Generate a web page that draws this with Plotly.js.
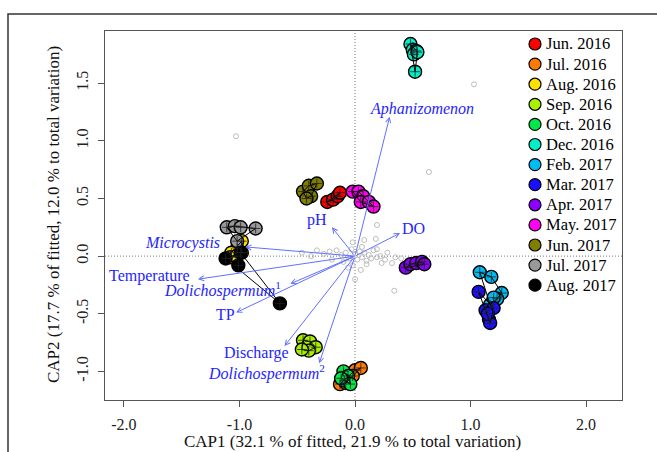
<!DOCTYPE html>
<html>
<head>
<meta charset="utf-8">
<script src="https://cdn.plot.ly/plotly-3.0.1.min.js"></script>
<style>html,body{margin:0;padding:0;background:#fff;}#chart{width:657px;height:452px;}</style>
</head>
<body>
<div id="chart"></div>
<script>
// ---- sample scores (CAP1, CAP2) by month ----
const months = ['Jun. 2016','Jul. 2016','Aug. 2016','Sep. 2016','Oct. 2016','Dec. 2016','Feb. 2017','Mar. 2017','Apr. 2017','May. 2017','Jun. 2017','Jul. 2017','Aug. 2017'];
const monthColors = ['#ff0000','#ff7a00','#ffe000','#a8f000','#00e84a','#00f0c8','#00bcf2','#1a10ff','#8c00ff','#ff00f0','#808000','#999999','#000000'];

const jun2016_x = [-0.24,-0.19,-0.15,-0.13];
const jun2016_y = [0.47,0.49,0.52,0.55];
const jul2016_x = [0.00,0.05,-0.02,-0.13,-0.08];
const jul2016_y = [-0.99,-0.97,-1.04,-1.11,-1.10];
const aug2016_x = [-0.98,-1.02,-1.07,-0.98,-1.08,-1.03];
const aug2016_y = [0.13,0.07,0.03,0.03,-0.01,0.00];
const sep2016_x = [-0.45,-0.39,-0.34,-0.40,-0.46];
const sep2016_y = [-0.73,-0.74,-0.79,-0.82,-0.81];
const oct2016_x = [-0.10,-0.06,-0.09,-0.04,-0.12];
const oct2016_y = [-1.00,-1.04,-1.08,-1.11,-1.06];
const dec2016_x = [0.48,0.50,0.53,0.51,0.54,0.52];
const dec2016_y = [1.84,1.79,1.78,1.75,1.77,1.60];
const feb2017_x = [1.08,1.18,1.27,1.23,1.17,1.20];
const feb2017_y = [-0.14,-0.18,-0.32,-0.37,-0.42,-0.36];
const mar2017_x = [1.07,1.13,1.16,1.17,1.20,1.15];
const mar2017_y = [-0.31,-0.47,-0.55,-0.58,-0.45,-0.50];
const apr2017_x = [0.44,0.48,0.53,0.58,0.60];
const apr2017_y = [-0.10,-0.07,-0.06,-0.05,-0.07];
const may2017_x = [-0.02,0.03,0.07,0.05,0.12,0.16];
const may2017_y = [0.56,0.56,0.52,0.47,0.47,0.43];
const jun2017_x = [-0.45,-0.40,-0.33,-0.38,-0.42];
const jun2017_y = [0.56,0.61,0.63,0.52,0.50];
const jul2017_x = [-1.11,-1.04,-0.99,-0.86,-1.02];
const jul2017_y = [0.25,0.26,0.25,0.24,0.13];
const aug2017_x = [-1.12,-0.99,-1.01,-0.65];
const aug2017_y = [-0.02,0.03,-0.08,-0.41];

const groupX = [jun2016_x,jul2016_x,aug2016_x,sep2016_x,oct2016_x,dec2016_x,feb2017_x,mar2017_x,apr2017_x,may2017_x,jun2017_x,jul2017_x,aug2017_x];
const groupY = [jun2016_y,jul2016_y,aug2016_y,sep2016_y,oct2016_y,dec2016_y,feb2017_y,mar2017_y,apr2017_y,may2017_y,jun2017_y,jul2017_y,aug2017_y];

// ---- species scores (grey) ----
const speciesX = [-0.46,-0.33,-0.27,-0.22,-0.16,-0.12,-0.08,-0.05,-0.03,0.00,0.02,0.04,0.06,0.08,0.10,0.12,0.14,0.16,0.19,0.22,0.26,0.32,0.35,0.19,0.18,0.08,0.19,0.64,1.03,-1.03,0.34,-0.02,-0.06,0.05,0.10,-0.10,-0.20,0.28,0.40,-0.38,0.00,-0.02,0.06,0.23];
const speciesY = [0.03,0.05,0.02,0.04,0.05,0.01,0.03,-0.02,0.06,0.02,-0.03,0.04,-0.01,0.03,-0.04,0.01,-0.02,0.05,-0.01,0.00,-0.03,-0.06,-0.01,0.06,0.15,0.14,0.27,0.73,1.49,1.04,-0.30,-0.08,-0.10,-0.12,-0.07,-0.05,-0.03,0.03,-0.02,0.00,-0.20,0.12,0.08,-0.06];

// ---- fitted vectors ----
const vectorNames = ['<i>Aphanizomenon</i>','pH','DO','<i>Microcystis</i>','Temperature','<i>Dolichospermum</i><sup>1</sup>','TP','Discharge','<i>Dolichospermum</i><sup>2</sup>'];
const vectorX = [0.30,-0.20,0.39,-0.95,-1.36,-0.56,-1.03,-0.61,-0.31];
const vectorY = [1.21,0.25,0.20,0.08,-0.20,-0.24,-0.49,-0.78,-0.93];
const labelX = [0.58,-0.33,0.51,-1.49,-1.78,-1.15,-1.12,-0.85,-0.77];
const labelY = [1.28,0.31,0.24,0.11,-0.17,-0.29,-0.51,-0.84,-1.01];

// ---- axis ticks ----
const xTickVals = [-2,-1,0,1,2];
const xTickText = ['-2.0','-1.0','0.0','1.0','2.0'];
const yTickVals = [-1,-0.5,0,0.5,1,1.5];
const yTickText = ['-1.0','-0.5','0.0','0.5','1.0','1.5'];

const FONT = 'Liberation Serif, Times New Roman, serif';
const BLUE_TXT = '#2424ff';
const BLUE_LINE = '#6070ff';

function hull(xs, ys){
  const pts = xs.map((x,i)=>[x,ys[i]]).sort((a,b)=>a[0]-b[0]||a[1]-b[1]);
  if(pts.length<3) return pts.concat([pts[0]]);
  const cross=(o,a,b)=>(a[0]-o[0])*(b[1]-o[1])-(a[1]-o[1])*(b[0]-o[0]);
  const lower=[];for(const p of pts){while(lower.length>=2&&cross(lower[lower.length-2],lower[lower.length-1],p)<=0)lower.pop();lower.push(p);}
  const upper=[];for(let i=pts.length-1;i>=0;i--){const p=pts[i];while(upper.length>=2&&cross(upper[upper.length-2],upper[upper.length-1],p)<=0)upper.pop();upper.push(p);}
  upper.pop();lower.pop();
  const h=lower.concat(upper);h.push(h[0]);return h;
}

const traces = [];
traces.push({type:'scatter',mode:'markers',x:speciesX,y:speciesY,showlegend:false,hoverinfo:'skip',
  marker:{symbol:'circle-open',size:5,color:'#bdbdbd',line:{width:1,color:'#bdbdbd'}}});

months.forEach((m,i)=>{
  traces.push({type:'scatter',mode:'markers',name:m,x:groupX[i],y:groupY[i],showlegend:false,
    marker:{symbol:'circle',size:13,color:monthColors[i],line:{width:1.4,color:'#000'}}});
});
months.forEach((m,i)=>{
  const h = hull(groupX[i],groupY[i]);
  traces.push({type:'scatter',mode:'lines',x:h.map(p=>p[0]),y:h.map(p=>p[1]),showlegend:false,hoverinfo:'skip',
    line:{color:'#000',width:1}});
  traces.push({type:'scatter',mode:'markers',x:groupX[i],y:groupY[i],showlegend:false,hoverinfo:'skip',
    marker:{symbol:'cross-thin-open',size:7,color:'#222',line:{width:0.8,color:'#222'}}});
});

const annotations = [];
vectorNames.forEach((n,i)=>{
  annotations.push({x:vectorX[i],y:vectorY[i],xref:'x',yref:'y',ax:0,ay:0,axref:'x',ayref:'y',
    text:'',showarrow:true,arrowhead:5,arrowsize:1,arrowwidth:1,arrowcolor:BLUE_LINE,standoff:0,startstandoff:0});
  annotations.push({x:labelX[i],y:labelY[i],xref:'x',yref:'y',text:n,showarrow:false,
    xanchor:'center',yanchor:'middle',font:{family:FONT,size:16,color:BLUE_TXT}});
});

// plot area geometry (px) for paper coordinates
const L=105, R=622, T=31, B=400;
const px2x = p => (p-L)/(R-L);
const px2y = p => (B-p)/(B-T);

annotations.push({xref:'paper',yref:'paper',x:px2x(352),y:px2y(441),text:'CAP1 (32.1 % of fitted, 21.9 % to total variation)',
  showarrow:false,xanchor:'center',yanchor:'middle',font:{family:FONT,size:17,color:'#111'}});
annotations.push({xref:'paper',yref:'paper',x:px2x(53),y:px2y(215),text:'CAP2 (17.7 % of fitted, 12.0 % to total variation)',
  showarrow:false,textangle:-90,xanchor:'center',yanchor:'middle',font:{family:FONT,size:17,color:'#111'}});

const shapes = [
  {type:'line',xref:'x',yref:'paper',x0:0,x1:0,y0:0,y1:1,line:{color:'#777',width:1,dash:'1px,2px'},layer:'below'},
  {type:'line',xref:'paper',yref:'y',x0:0,x1:1,y0:0,y1:0,line:{color:'#777',width:1,dash:'1px,2px'},layer:'below'},
  {type:'rect',xref:'paper',yref:'paper',x0:px2x(8),x1:px2x(900),y0:px2y(14),y1:px2y(900),line:{color:'#333',width:1.5},fillcolor:'rgba(0,0,0,0)'}
];

// legend (drawn manually for R-like spacing)
months.forEach((m,i)=>{
  const cy = 44 + i*20.1;
  shapes.push({type:'circle',xref:'paper',yref:'paper',xsizemode:'pixel',ysizemode:'pixel',
    xanchor:px2x(535),yanchor:px2y(cy),x0:-6,x1:6,y0:-6,y1:6,
    fillcolor:monthColors[i],line:{color:'#000',width:1.2}});
  annotations.push({xref:'paper',yref:'paper',x:px2x(544),y:px2y(cy),text:m,showarrow:false,
    xanchor:'left',yanchor:'middle',font:{family:FONT,size:16.5,color:'#000'}});
});

const axisCommon = {showgrid:false,zeroline:false,showline:true,mirror:true,linecolor:'#555',linewidth:1,
  ticks:'outside',ticklen:6,tickcolor:'#555',tickwidth:1,tickfont:{family:FONT,size:16,color:'#222'}};

const layout = {
  width:657,height:452,
  margin:{l:L,r:657-R,t:T,b:452-B,pad:0},
  paper_bgcolor:'#fff',plot_bgcolor:'#fff',
  showlegend:false,
  xaxis:Object.assign({},axisCommon,{range:[-2.164,2.311],tickmode:'array',tickvals:xTickVals,ticktext:xTickText,ticklabelstandoff:4}),
  yaxis:Object.assign({},axisCommon,{range:[-1.248,1.953],tickmode:'array',tickvals:yTickVals,ticktext:yTickText,tickangle:-90,ticklabelstandoff:4}),
  shapes:shapes,
  annotations:annotations
};

Plotly.newPlot('chart',traces,layout,{displayModeBar:false,staticPlot:true});
</script>
</body>
</html>
